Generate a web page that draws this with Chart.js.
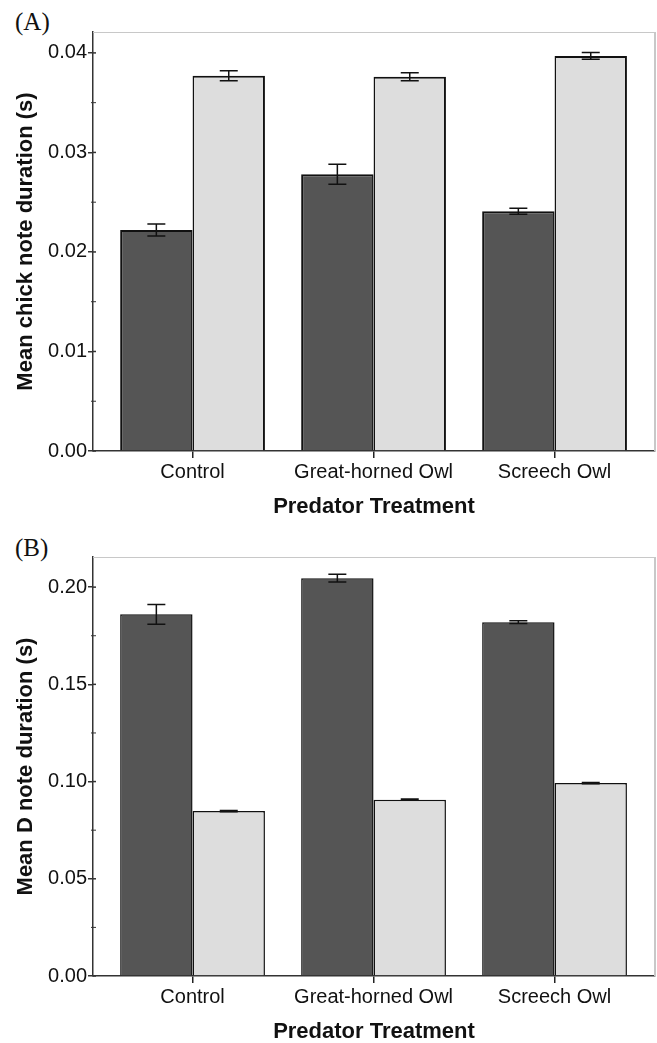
<!DOCTYPE html>
<html>
<head>
<meta charset="utf-8">
<script src="https://cdn.jsdelivr.net/npm/chart.js@4.4.0/dist/chart.umd.min.js"></script>
<style>
  html, body { margin: 0; padding: 0; background: #fff; overflow: hidden; }
  body { width: 657px; height: 1043px; position: relative; }
  .panel { position: absolute; left: 0; }
  .tag { position: absolute; left: 15px; font: 25px/1 "Liberation Serif", "Times New Roman", serif; color: #111; }
</style>
</head>
<body>
<div class="tag" style="top:9px">(A)</div>
<canvas id="chartA" class="panel" style="top:0" width="657" height="525"></canvas>
<div class="tag" style="top:535px">(B)</div>
<canvas id="chartB" class="panel" style="top:525px" width="657" height="525"></canvas>
<script>
const categories = ["Control", "Great-horned Owl", "Screech Owl"];

// (A) mean chick note duration (s)
const chickDark = [0.0222, 0.0278, 0.0241];
const chickDarkErr = [0.0006, 0.001, 0.0003];
const chickLight = [0.0377, 0.0376, 0.0397];
const chickLightErr = [0.0005, 0.0004, 0.00035];
const chickTicks = [0, 0.01, 0.02, 0.03, 0.04];

// (B) mean D note duration (s)
const dNoteDark = [0.186, 0.2046, 0.182];
const dNoteDarkErr = [0.0051, 0.002, 0.0007];
const dNoteLight = [0.0848, 0.0907, 0.0992];
const dNoteLightErr = [0.0003, 0.0003, 0.0003];
const dNoteTicks = [0, 0.05, 0.1, 0.15, 0.2];

const ink = "#111";
const sans = "'Liberation Sans', Arial, sans-serif";

// error bars, frame, minor ticks
const extrasPlugin = {
  id: "extras",
  afterDatasetsDraw(chart) {
    const ctx = chart.ctx;
    const y = chart.scales.y;
    ctx.save();
    ctx.strokeStyle = ink;
    ctx.lineWidth = 1.5;
    chart.data.datasets.forEach((ds, i) => {
      const meta = chart.getDatasetMeta(i);
      meta.data.forEach((bar, j) => {
        const v = ds.data[j].y;
        const e = ds.errors[j];
        const y1 = y.getPixelForValue(v + e);
        const y2 = y.getPixelForValue(v - e);
        ctx.beginPath();
        ctx.moveTo(bar.x, y1); ctx.lineTo(bar.x, y2);
        ctx.moveTo(bar.x - 9, y1); ctx.lineTo(bar.x + 9, y1);
        ctx.moveTo(bar.x - 9, y2); ctx.lineTo(bar.x + 9, y2);
        ctx.stroke();
      });
    });
    ctx.restore();
  },
  afterDraw(chart) {
    const ctx = chart.ctx;
    const area = chart.chartArea;
    const y = chart.scales.y;
    ctx.save();
    // light frame on top and right
    ctx.strokeStyle = "#c8c8c8";
    ctx.lineWidth = 1;
    ctx.beginPath();
    ctx.moveTo(area.left, area.top + 0.5); ctx.lineTo(area.right, area.top + 0.5);
    ctx.stroke();
    ctx.lineWidth = 2;
    ctx.beginPath();
    ctx.moveTo(area.right, area.top); ctx.lineTo(area.right, area.bottom);
    ctx.stroke();
    // inner part of major ticks + minor ticks
    ctx.strokeStyle = "#333";
    const ticks = chart.options.scales.y.tickValues;
    ticks.forEach((t, k) => {
      const py = y.getPixelForValue(t);
      ctx.lineWidth = 1.5;
      ctx.beginPath();
      ctx.moveTo(area.left, py); ctx.lineTo(area.left + 3, py);
      ctx.stroke();
      if (k < ticks.length - 1) {
        const my = y.getPixelForValue((t + ticks[k + 1]) / 2);
        ctx.lineWidth = 1;
        ctx.beginPath();
        ctx.moveTo(area.left - 2, my); ctx.lineTo(area.left + 3, my);
        ctx.stroke();
      }
    });
    ctx.restore();
  }
};

function makeChart(id, dark, darkErr, light, lightErr, yTicks, yMax, yTitle, bw) {
  return new Chart(document.getElementById(id), {
    type: "bar",
    data: {
      datasets: [
        {
          data: dark.map((v, i) => ({ x: i, y: v })),
          errors: darkErr,
          backgroundColor: "#555555",
          borderColor: ink,
          borderWidth: { top: bw, left: bw, right: 1.5, bottom: 0 },
          borderSkipped: "start",
          barPercentage: 1,
          categoryPercentage: 0.8,
        },
        {
          data: light.map((v, i) => ({ x: i, y: v })),
          errors: lightErr,
          backgroundColor: "#dddddd",
          borderColor: ink,
          borderWidth: { top: bw, left: 1.5, right: bw, bottom: 0 },
          borderSkipped: "start",
          barPercentage: 1,
          categoryPercentage: 0.8,
        },
      ],
    },
    options: {
      responsive: false,
      animation: false,
      layout: { padding: { top: 32, right: 2, left: 0, bottom: 0 } },
      plugins: { legend: { display: false }, tooltip: { enabled: false } },
      scales: {
        x: {
          type: "linear",
          min: -0.55,
          max: 2.555,
          offset: false,
          afterBuildTicks: (scale) => {
            scale.ticks = categories.map((c, i) => ({ value: i }));
          },
          afterFit: (scale) => { scale.height = 74; },
          ticks: {
            callback: (v) => categories[v],
            font: { family: sans, size: 20 },
            color: ink,
            padding: 2,
            maxRotation: 0,
            autoSkip: false,
          },
          grid: { offset: false, drawOnChartArea: false, tickLength: 7, color: "#222", lineWidth: 1.5 },
          border: { color: "#333", width: 1.5 },
          title: {
            display: true,
            text: "Predator Treatment",
            font: { family: sans, size: 22, weight: "bold", lineHeight: 1.2 },
            color: ink,
            padding: { top: 0, bottom: 5 },
          },
        },
        y: {
          min: 0,
          max: yMax,
          tickValues: yTicks,
          afterBuildTicks: (scale) => {
            scale.ticks = yTicks.map((v) => ({ value: v }));
          },
          afterFit: (scale) => { scale.width = 93; },
          ticks: {
            callback: (v) => v.toFixed(2),
            font: { family: sans, size: 20 },
            color: ink,
            padding: 1,
          },
          grid: { drawOnChartArea: false, tickLength: 5, color: "#333", lineWidth: 1.5 },
          border: { color: "#333", width: 1.5 },
          title: {
            display: true,
            text: yTitle,
            font: { family: sans, size: 22, weight: "bold", lineHeight: 1.2 },
            color: ink,
            padding: { top: 13, bottom: 0 },
          },
        },
      },
    },
    plugins: [extrasPlugin],
  });
}

makeChart("chartA", chickDark, chickDarkErr, chickLight, chickLightErr,
  chickTicks, 0.0421, "Mean chick note duration (s)", 2);
makeChart("chartB", dNoteDark, dNoteDarkErr, dNoteLight, dNoteLightErr,
  dNoteTicks, 0.2155, "Mean D note duration (s)", 1.5);
</script>
</body>
</html>
